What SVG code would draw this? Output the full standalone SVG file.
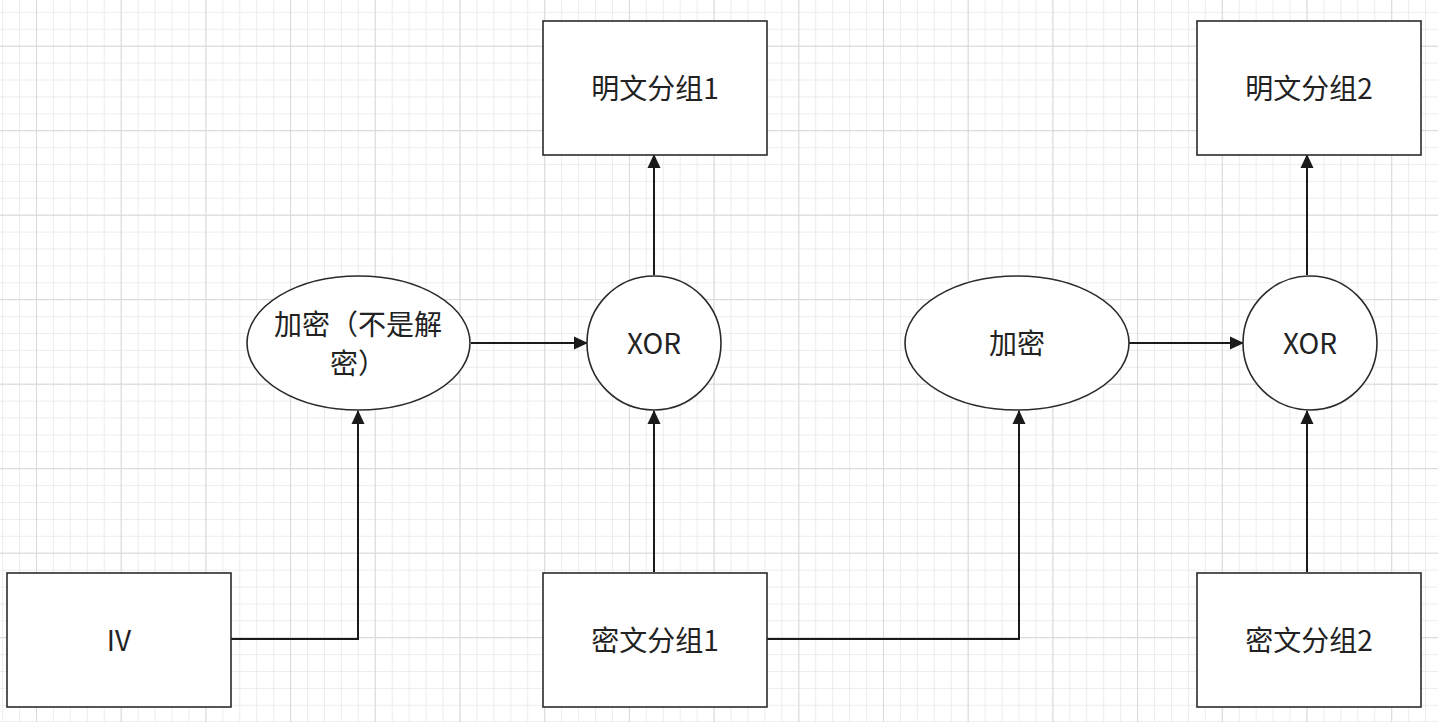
<svg xmlns="http://www.w3.org/2000/svg" width="1438" height="722" viewBox="0 0 1438 722">
<style>
.box{fill:#fff;stroke:#2b2b2b;stroke-width:1.6}
.lbl{font-family:"Noto Sans CJK SC","Noto Sans",sans-serif;font-size:28px;fill:#222;text-anchor:middle;dominant-baseline:central}
.edge{fill:none;stroke:#1a1a1a;stroke-width:2}
</style>
<defs>
<pattern id="minor" patternUnits="userSpaceOnUse" x="2.1" y="11.9" width="16.94" height="16.9">
<path d="M0 0V16.9M0 0H16.94" fill="none" stroke="#e8e8e8" stroke-width="1.6"/>
</pattern>
<pattern id="major" patternUnits="userSpaceOnUse" x="36" y="45.7" width="84.7" height="84.5">
<path d="M0 0V84.5M0 0H84.7" fill="none" stroke="#d8d8d8" stroke-width="1.8"/>
</pattern>
<marker id="arr" viewBox="0 0 14 14" refX="13" refY="7" markerWidth="14" markerHeight="14" markerUnits="userSpaceOnUse" orient="auto">
<path d="M0 0.5L14 7L0 13.5Z" fill="#1a1a1a"/>
</marker>
</defs>
<rect width="1438" height="722" fill="#fff"/>
<rect width="1438" height="722" fill="url(#minor)"/>
<rect width="1438" height="722" fill="url(#major)"/>
<g id="connectors">
<path class="edge" d="M231 639H358V411" marker-end="url(#arr)"/>
<path class="edge" d="M471 343H587" marker-end="url(#arr)"/>
<path class="edge" d="M654 275V155" marker-end="url(#arr)"/>
<path class="edge" d="M654 572V411" marker-end="url(#arr)"/>
<path class="edge" d="M767 639H1019V411" marker-end="url(#arr)"/>
<path class="edge" d="M1129 343H1243" marker-end="url(#arr)"/>
<path class="edge" d="M1307 275V155" marker-end="url(#arr)"/>
<path class="edge" d="M1307 572V411" marker-end="url(#arr)"/>
</g>
<g id="plain1"><rect class="box" x="543" y="21" width="224" height="134"/><text class="lbl" x="655" y="87">明文分组1</text></g>
<g id="plain2"><rect class="box" x="1197" y="21" width="224" height="134"/><text class="lbl" x="1309" y="87">明文分组2</text></g>
<g id="iv"><rect class="box" x="7" y="573" width="224" height="134"/><text class="lbl" x="119" y="639">IV</text></g>
<g id="cipher1"><rect class="box" x="543" y="573" width="224" height="134"/><text class="lbl" x="655" y="639">密文分组1</text></g>
<g id="cipher2"><rect class="box" x="1197" y="573" width="224" height="134"/><text class="lbl" x="1309" y="639">密文分组2</text></g>
<g id="enc1"><ellipse class="box" cx="358.5" cy="343" rx="111.5" ry="67"/><text class="lbl" x="358" y="323">加密（不是解</text><text class="lbl" x="358" y="362">密）</text></g>
<g id="xor1"><circle class="box" cx="654" cy="343" r="67"/><text class="lbl" x="654" y="342">XOR</text></g>
<g id="enc2"><ellipse class="box" cx="1017" cy="343" rx="112" ry="67"/><text class="lbl" x="1017" y="342">加密</text></g>
<g id="xor2"><circle class="box" cx="1310" cy="343" r="67"/><text class="lbl" x="1310" y="342">XOR</text></g>
</svg>
